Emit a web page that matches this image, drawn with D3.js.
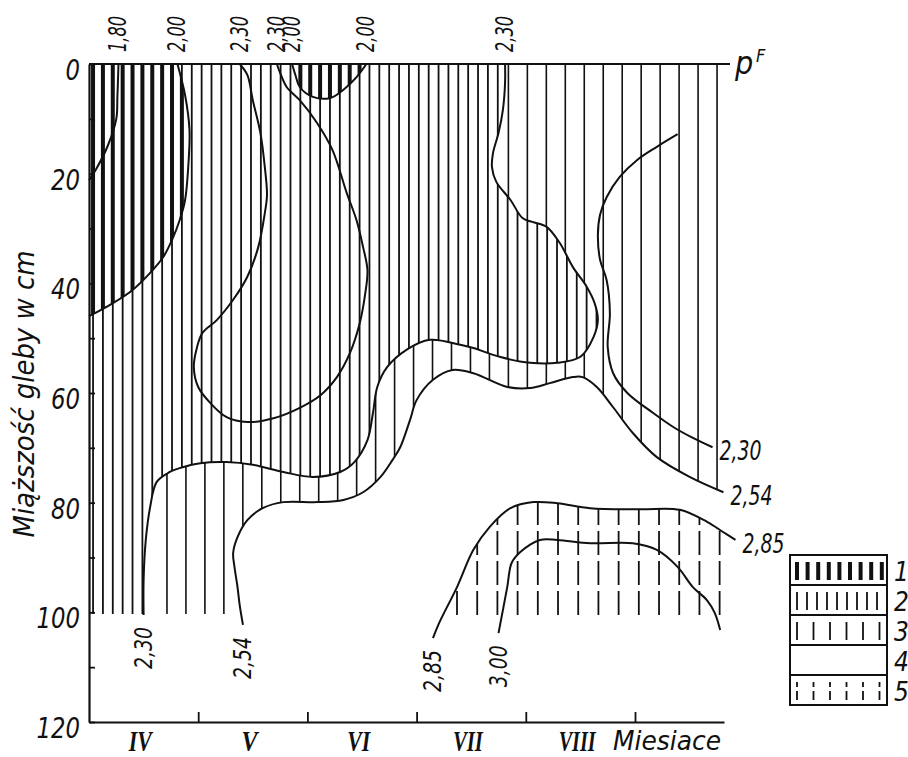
<!DOCTYPE html>
<html>
<head>
<meta charset="utf-8">
<script src="https://cdn.jsdelivr.net/npm/d3@7"></script>
<style>
  body { margin: 0; background: #fff; }
  svg { display: block; }
  .it { font-family: 'DejaVu Sans Condensed', 'DejaVu Sans', sans-serif; font-style: italic; font-stretch: condensed; fill: #111; }
  .rom { font-family: 'Liberation Serif', 'DejaVu Serif', serif; font-style: italic; font-weight: bold; fill: #111; }
</style>
</head>
<body>
<svg id="chart" width="908" height="757"></svg>
<script>
// Months on the time axis and depth ticks
const monthNames = ["IV", "V", "VI", "VII", "VIII"];
const depthLabels = [0, 20, 40, 60, 80, 100, 120];
const legendKeys = ["1", "2", "3", "4", "5"];

// pF isolines: [months since 1 April, soil depth in cm]
const iso180 = [[0.27,0],[0.26,6],[0.25,10],[0.17,15],[0.07,19],[0,21.2]];
const iso200a = [[0.81,0],[0.88,5.7],[0.92,12],[0.91,18.4],[0.88,24.8],[0.83,28.5],[0.76,32.1],[0.68,35.2],[0.56,38.1],[0.40,41.2],[0.22,43.6],[0,46]];
const iso200b = [[1.86,0],[1.89,2],[1.93,4.2],[2.05,6],[2.21,6.2],[2.33,4.7],[2.45,2.4],[2.54,0]];
const iso230a = [[1.38,0],[1.45,2],[1.50,6.6],[1.57,12.6],[1.61,18.8],[1.63,23.9],[1.61,27.2],[1.55,33.4],[1.45,38.8],[1.32,43],[1.17,46.7],[1.04,49],[0.99,51.6],[0.96,55.3],[1.0,58.9],[1.11,61.8],[1.26,64.4],[1.45,65.3],[1.69,64.6],[1.93,62.7],[2.12,60.4],[2.27,57.1],[2.39,52.7],[2.48,47.2],[2.53,41.8],[2.55,37.6],[2.51,33.4],[2.45,28.5],[2.36,23.5],[2.23,15.7],[2.09,10.8],[1.93,6.6],[1.81,4.2],[1.75,1.6],[1.72,0]];
const iso230b = [[0.50,100.5],[0.50,94.1],[0.52,86.8],[0.56,80.8],[0.62,76.2],[0.74,74.4],[0.83,73.7],[1.02,72.8],[1.26,72.6],[1.50,73.1],[1.78,74.4],[2.05,75.3],[2.30,74.4],[2.43,72.6],[2.55,68.6],[2.60,63.7],[2.64,58.9],[2.73,55.3],[2.91,52.1],[3.12,50.3],[3.40,51.2],[3.52,51.8],[3.76,53.4],[4.04,54.5],[4.29,54.5],[4.50,53.4],[4.62,49.8],[4.66,46.7],[4.63,43.6],[4.56,40.7],[4.43,37],[4.31,32.6],[4.19,29.7],[4.06,28.8],[3.97,28.1],[3.86,24.8],[3.73,21.5],[3.69,18.8],[3.70,16.2],[3.75,12.6],[3.79,8.4],[3.81,3.5],[3.81,0]];
const iso230c = [[5.39,12.8],[5.20,15.1],[5.02,17.5],[4.86,20.6],[4.74,24.3],[4.68,27.5],[4.66,31.2],[4.68,35.7],[4.74,39.4],[4.77,45.4],[4.75,51.6],[4.80,56.4],[4.93,60],[5.17,63.7],[5.35,66.2],[5.53,68.2],[5.71,69.9]];
const iso254 = [[1.41,102.3],[1.38,98.7],[1.36,95.4],[1.33,91.4],[1.32,89.2],[1.36,86.3],[1.45,83.2],[1.59,81],[1.78,79.9],[2.09,79.9],[2.33,79.5],[2.51,78.1],[2.67,75.3],[2.78,72.2],[2.85,69.9],[2.94,64.9],[3.0,61.3],[3.15,57.6],[3.33,55.8],[3.52,56.4],[3.83,58.9],[4.04,59.1],[4.22,58.2],[4.43,57.1],[4.52,57.1],[4.65,58.9],[4.80,62.6],[4.98,67.3],[5.20,71.7],[5.50,75.3],[5.81,78.1]];
const iso285 = [[3.15,104.7],[3.21,101.8],[3.37,95.4],[3.52,88.6],[3.67,84.4],[3.86,81],[4.07,79.9],[4.29,80.1],[4.59,81],[5.05,81.2],[5.41,81.3],[5.66,83.5],[5.81,85.4],[5.92,86.8]];
const iso300 = [[3.75,103.8],[3.83,95.4],[3.87,91],[3.95,89],[4.13,86.8],[4.29,86.8],[4.59,87.4],[4.98,87.4],[5.20,88.6],[5.39,91.7],[5.53,95.4],[5.66,97.8],[5.73,100.1],[5.78,103.2]];

// isoline value labels
const topLabels = [
  { text: "1,80", line: iso180 }, { text: "2,00", line: iso200a },
  { text: "2,30", line: iso230a }, { text: "2,30", line: iso230a, end: true },
  { text: "2,00", line: iso200b }, { text: "2,00", line: iso200b, end: true },
  { text: "2,30", line: iso230b, end: true }
];
const bottomLabels = [
  { text: "2,30", line: iso230b }, { text: "2,54", line: iso254 },
  { text: "2,85", line: iso285 }, { text: "3,00", line: iso300 }
];
const sideLabels = [
  { text: "2,30", line: iso230c }, { text: "2,54", line: iso254 }, { text: "2,85", line: iso285 }
];

const svg = d3.select("#chart");
const x = d3.scaleLinear().domain([0, 5.815]).range([89, 724]);
const y = d3.scaleLinear().domain([0, 120]).range([64, 722]);
const line = d3.line().x(d => x(d[0])).y(d => y(d[1])).curve(d3.curveCatmullRom.alpha(0.5));
const region = (pts, extra) => line(pts) + extra.map(p => `L${x(p[0])},${y(p[1])}`).join("") + "Z";

const defs = svg.append("defs");
function clip(id, d) { defs.append("clipPath").attr("id", id).append("path").attr("d", d); }

const hatchBottom = 100.3;
clip("c-rect", `M${x(0)},${y(0)}H${x(5.8)}V${y(hatchBottom)}H${x(0)}Z`);
clip("c-moist", region(iso254, [[5.95, 78.1], [5.95, -5], [-0.1, -5], [-0.1, 110], [1.41, 110]]));
const wetPath = region(iso230b, [[3.81, -5], [-0.1, -5], [-0.1, 110], [0.5, 110]]);
clip("c-wet", wetPath);
const veryWetPath = region(iso200a, [[-0.1, 46], [-0.1, -5], [0.81, -5]]) + line(iso200b) + "Z";
clip("c-verywet", veryWetPath);
clip("c-dry", region(iso285, [[5.92, 110], [3.15, 110]]));
clip("c-dryrect", `M${x(0)},${y(0)}H${x(5.8)}V${y(100.5)}H${x(0)}Z`);

function vlines(g, months, d0, d1, w, dash) {
  g.selectAll(null).data(months).join("line")
    .attr("x1", d => x(d)).attr("x2", d => x(d))
    .attr("y1", y(d0)).attr("y2", y(d1))
    .attr("stroke", "#111").attr("stroke-width", w)
    .attr("stroke-dasharray", dash || null);
}

// hatching by moisture class
const hatch = svg.append("g").attr("clip-path", "url(#c-rect)");
const sparse = hatch.append("g").attr("clip-path", "url(#c-moist)");
vlines(sparse, d3.range(0.714, 5.76, 0.1737), 0, hatchBottom, 1.6);
const wet = hatch.append("g").attr("clip-path", "url(#c-wet)");
wet.append("path").attr("d", wetPath).attr("fill", "#fff");
vlines(wet, d3.range(0.037, 4.75, 0.0904), 0, hatchBottom, 1.8);
const veryWet = hatch.append("g").attr("clip-path", "url(#c-verywet)");
veryWet.append("path").attr("d", veryWetPath).attr("fill", "#fff");
vlines(veryWet, d3.range(0.037, 2.6, 0.0904), 0, hatchBottom, 4);
const dry = svg.append("g").attr("clip-path", "url(#c-dryrect)").append("g").attr("clip-path", "url(#c-dry)");
vlines(dry, d3.range(3.37, 5.8, 0.185), 100.5, 70, 1.8, "24,6");

// isolines
const lines = [iso180, iso200a, iso200b, iso230a, iso230b, iso230c, iso254, iso285, iso300];
svg.append("g").selectAll("path").data(lines).join("path")
  .attr("d", line).attr("fill", "none").attr("stroke", "#111").attr("stroke-width", 2);

// surface line
svg.append("line").attr("x1", x(0)).attr("x2", x(5.87)).attr("y1", y(0)).attr("y2", y(0))
  .attr("stroke", "#111").attr("stroke-width", 2);

// axes
const gY = svg.append("g").attr("transform", `translate(${x(0)},0)`)
  .call(d3.axisLeft(y).tickValues(d3.range(0, 121, 10)).tickSize(-6).tickSizeOuter(0).tickPadding(9)
    .tickFormat(d => depthLabels.includes(d) ? String(d) : ""));
const gX = svg.append("g").attr("transform", `translate(0,${y(120)})`)
  .call(d3.axisBottom(x).tickValues([1, 2, 3, 4, 5]).tickSize(-10).tickSizeOuter(0).tickFormat(""));
[gY, gX].forEach(g => {
  g.select(".domain").attr("stroke", "#111").attr("stroke-width", 2.2);
  g.selectAll(".tick line").attr("stroke", "#111").attr("stroke-width", 1.8);
});
gY.attr("font-family", null).attr("font-size", null);
gY.selectAll(".tick text").attr("class", "it").attr("font-size", 28).attr("dy", "0.55em")
  .each(function () { const t = this.textContent; if (t) d3.select(this).attr("textLength", t.length * 14.5).attr("lengthAdjust", "spacingAndGlyphs"); });

// month names (Roman numerals set narrow: I ~7px, V ~16px)
const romanWidth = s => Array.from(s).reduce((w, c) => w + (c === "V" ? 16 : 7), 0);
svg.append("g").selectAll("text").data(monthNames).join("text")
  .attr("class", "rom").attr("font-size", 30).attr("text-anchor", "middle")
  .attr("x", (d, i) => x(i + 0.47)).attr("y", 751)
  .attr("textLength", romanWidth).attr("lengthAdjust", "spacingAndGlyphs")
  .text(d => d);
svg.append("text").attr("class", "it").attr("font-size", 27).attr("x", 613).attr("y", 750)
  .attr("textLength", 108).attr("lengthAdjust", "spacingAndGlyphs").text("Miesiace");

// depth axis title
svg.append("text").attr("class", "it").attr("font-size", 28)
  .attr("transform", "translate(34,394) rotate(-90)").attr("text-anchor", "middle")
  .attr("textLength", 287).attr("lengthAdjust", "spacingAndGlyphs").text("Miąższość gleby w cm");

// pF symbol
svg.append("text").attr("class", "it").attr("font-size", 32).attr("x", 735).attr("y", 74).text("p");
svg.append("text").attr("class", "it").attr("font-size", 18).attr("x", 756).attr("y", 62).text("F");

// isoline labels
svg.append("g").selectAll("text").data(topLabels).join("text")
  .attr("class", "it").attr("font-size", 24)
  .attr("textLength", 36).attr("lengthAdjust", "spacingAndGlyphs")
  .attr("transform", d => { const p = d.end ? d.line[d.line.length - 1] : d.line[0]; return `translate(${x(p[0]) + 8},52) rotate(-90)`; })
  .text(d => d.text);
svg.append("g").selectAll("text").data(bottomLabels).join("text")
  .attr("class", "it").attr("font-size", 24).attr("text-anchor", "end")
  .attr("textLength", 42).attr("lengthAdjust", "spacingAndGlyphs")
  .attr("transform", d => { const p = d.line[0]; return `translate(${x(p[0]) + 8.5},${y(p[1]) + 12}) rotate(-90)`; })
  .text(d => d.text);
svg.append("g").selectAll("text").data(sideLabels).join("text")
  .attr("class", "it").attr("font-size", 27)
  .attr("textLength", 42).attr("lengthAdjust", "spacingAndGlyphs")
  .attr("x", d => x(d.line[d.line.length - 1][0]) + 7)
  .attr("y", d => y(d.line[d.line.length - 1][1]) + 13)
  .text(d => d.text);

// legend
const lg = svg.append("g").attr("transform", "translate(790,555)");
const rowH = 30, boxW = 97;
lg.append("rect").attr("width", boxW).attr("height", rowH * 5).attr("fill", "none").attr("stroke", "#111").attr("stroke-width", 2);
lg.selectAll("line.sep").data(d3.range(1, 5)).join("line").attr("class", "sep")
  .attr("x1", 0).attr("x2", boxW).attr("y1", d => d * rowH).attr("y2", d => d * rowH)
  .attr("stroke", "#111").attr("stroke-width", 1.8);
const swatch = (row, n, step, w, dash) => lg.append("g").selectAll("line").data(d3.range(n)).join("line")
  .attr("x1", i => 7 + i * step).attr("x2", i => 7 + i * step)
  .attr("y1", row * rowH + 7).attr("y2", row * rowH + rowH - 5)
  .attr("stroke", "#111").attr("stroke-width", w).attr("stroke-dasharray", dash || null);
swatch(0, 9, 10.6, 4);
swatch(1, 9, 10, 1.8);
swatch(2, 6, 16.5, 1.8);
swatch(4, 6, 16.5, 1.8, "5,4,40");
lg.selectAll("text").data(legendKeys).join("text").attr("class", "it").attr("font-size", 26)
  .attr("x", 104).attr("y", (d, i) => i * rowH + 26).text(d => d);
</script>
</body>
</html>
